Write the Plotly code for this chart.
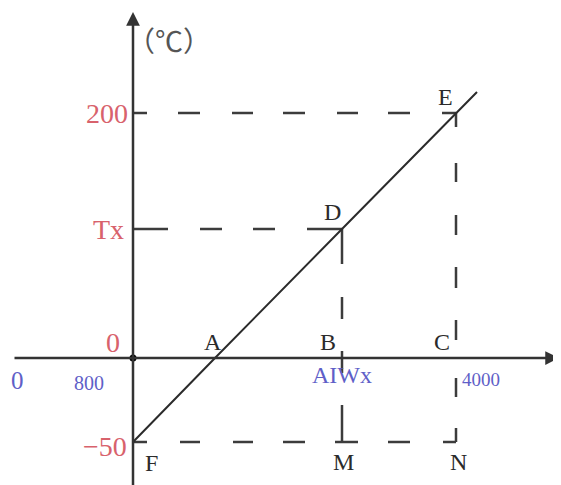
import plotly.graph_objects as go

# schematic units: origin where the two axes cross, 1 unit ~ 1 px
line_x = [0, 82, 209, 323, 344]
line_y = [-84, 0, 129, 245, 266]

temp_labels = ["200", "Tx", "0", "−50"]
temp_levels = [245, 129, 16, -88]
temp_label_x = [-3, -7, -11, -4]

x_labels = ["0", "800", "AIWx", "4000"]
x_label_pos = [-116, -44, 209, 348]
x_label_y = [-22, -25, -17, -21]
x_label_size = [25, 20, 24, 19]

point_names = ["A", "B", "C", "D", "E", "F", "M", "N"]
point_x = [80, 195, 309, 199, 312, 18, 210, 325]
point_y = [16, 16, 16, 146, 261, -105, -104, -104]

# dashed guides: (x0, y0, x1, y1)
guide_x0 = [0, 0, 0, 209, 323]
guide_y0 = [245, 129, -84, 129, 245]
guide_x1 = [323, 209, 323, 209, 323]
guide_y1 = [245, 129, -84, -84, -84]

# hand drawn dash rhythm of each guide (dash, gap, dash, gap ...)
dash_runs = [
    [14, 31, 22, 32, 21, 30, 22, 32, 21, 30, 22, 32, 30, 100],
    [35, 32, 22, 31, 22, 32, 40, 100],
    [14, 33, 20, 33, 20, 30, 22, 30, 23, 30, 22, 33, 20, 100],
    [35, 33, 22, 32, 22, 32, 40, 100],
    [14, 36, 19, 33, 20, 32, 21, 32, 20, 38, 19, 31, 20, 100],
]

red = "#d8626c"
blue = "#5f5fc8"
ink = "#2b2b2b"

fig = go.Figure()

for x0, y0, x1, y1, run in zip(guide_x0, guide_y0, guide_x1, guide_y1, dash_runs):
    fig.add_trace(go.Scatter(x=[x0, x1], y=[y0, y1], mode="lines",
                             line=dict(color="#3c3c3c", width=2.5,
                                       dash=",".join(f"{v}px" for v in run)),
                             hoverinfo="skip"))

fig.add_trace(go.Scatter(x=line_x, y=line_y, mode="lines",
                         line=dict(color=ink, width=2), hoverinfo="skip"))

fig.add_trace(go.Scatter(x=[0], y=[0], mode="markers",
                         marker=dict(color="black", size=7), hoverinfo="skip"))

# axes with arrow heads
fig.add_annotation(x=426, y=0, ax=-120, ay=0, axref="x", ayref="y",
                   showarrow=True, arrowhead=2, arrowsize=1.1, arrowwidth=2.5,
                   arrowcolor="#333333", text="")
fig.add_annotation(x=0, y=346, ax=0, ay=-130, axref="x", ayref="y",
                   showarrow=True, arrowhead=2, arrowsize=1.1, arrowwidth=2.5,
                   arrowcolor="#333333", text="")

fig.add_annotation(x=36, y=318, text="（℃）", showarrow=False,
                   font=dict(family="Noto Sans CJK SC", size=28, color="#555555"))

for lab, xx, yy in zip(temp_labels, temp_label_x, temp_levels):
    fig.add_annotation(x=xx, y=yy, text=lab, showarrow=False, xanchor="right",
                       font=dict(family="Liberation Serif", size=28, color=red))

for lab, xx, yy, sz in zip(x_labels, x_label_pos, x_label_y, x_label_size):
    fig.add_annotation(x=xx, y=yy, text=lab, showarrow=False,
                       font=dict(family="Liberation Serif", size=sz, color=blue))

for lab, xx, yy in zip(point_names, point_x, point_y):
    fig.add_annotation(x=xx, y=yy, text=lab, showarrow=False,
                       font=dict(family="Liberation Serif", size=24, color=ink))

# page body has an 8px margin, so the plot is sized and ranged to land on the window
fig.update_layout(
    width=553, height=477,
    margin=dict(l=0, r=0, t=0, b=0),
    showlegend=False,
    plot_bgcolor="white", paper_bgcolor="white",
    xaxis=dict(range=[-125, 428], visible=False, fixedrange=True),
    yaxis=dict(range=[-127, 350], visible=False, fixedrange=True),
)

fig.write_html("out.html")
